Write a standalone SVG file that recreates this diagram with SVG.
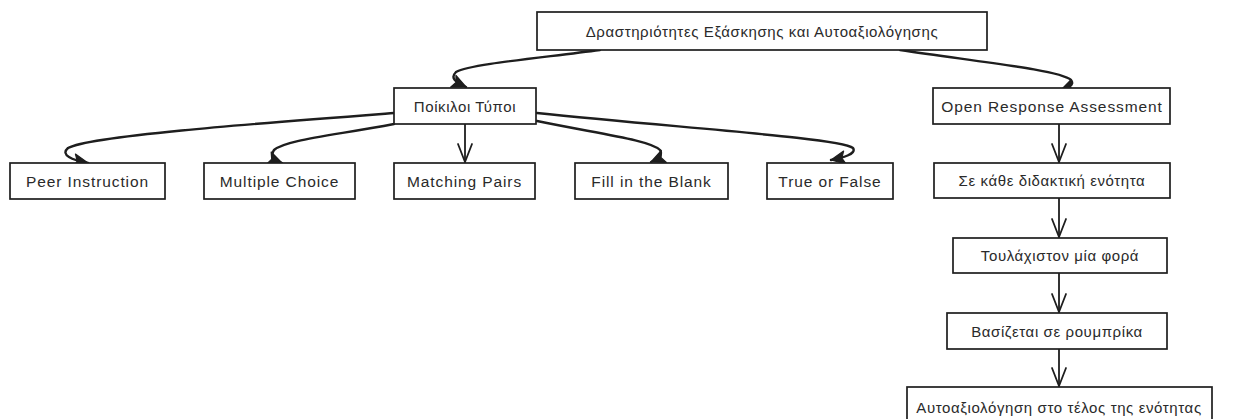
<svg xmlns="http://www.w3.org/2000/svg" width="1233" height="419" viewBox="0 0 1233 419">
<defs>
<style>
.box{fill:#ffffff;stroke:#1e1e1e;stroke-width:1.7}
.lbl{font-family:"Liberation Sans","Noto Sans",sans-serif;font-size:15px;fill:#2a2a2a;text-anchor:middle;dominant-baseline:central;letter-spacing:0.6px}
.lat{font-size:15.5px;letter-spacing:0.9px}
.edge{fill:none;stroke:#1e1e1e;stroke-width:1.8;stroke-linecap:round}
.curve{fill:none;stroke:#1e1e1e;stroke-width:2.4;stroke-linecap:round}
</style>
<marker id="vhead" viewBox="0 0 22 22" refX="20" refY="11" markerWidth="22" markerHeight="22" markerUnits="userSpaceOnUse" orient="auto">
<path d="M2,4 L20,11 L2,18" fill="none" stroke="#1e1e1e" stroke-width="1.8" stroke-linecap="round" stroke-linejoin="round"/>
</marker>
<marker id="chead" viewBox="0 0 18 18" refX="16" refY="9" markerWidth="18" markerHeight="18" markerUnits="userSpaceOnUse" orient="auto">
<path d="M2,2.5 L16,9 L2,15.5 L5,9 Z" fill="#1e1e1e" stroke="#1e1e1e" stroke-width="1.2" stroke-linejoin="round"/>
</marker>
</defs>
<rect width="1233" height="419" fill="#ffffff"/>

<g id="connectors">
<path class="curve" d="M600,50 C540,58 470,64 456,72 C450,78 455,82 466,87" marker-end="url(#chead)"/>
<path class="curve" d="M900,50 C980,62 1060,70 1071,80 C1075,85 1068,88 1060,91" marker-end="url(#chead)"/>
<path class="curve" d="M394,113 C250,124 90,136 68,148 C60,155 72,160 88,163" marker-end="url(#chead)"/>
<path class="curve" d="M394,124 C330,136 285,140 274,150 C270,156 274,160 282,163" marker-end="url(#chead)"/>
<path class="edge" d="M465,124 L465,162" marker-end="url(#vhead)"/>
<path class="curve" d="M537,121 C600,134 650,140 660,150 C663,155 658,159 651,162" marker-end="url(#chead)"/>
<path class="curve" d="M537,113 C680,128 840,138 853,148 C857,154 842,158 831,160" marker-end="url(#chead)"/>
<path class="edge" d="M1059,124 L1059,162" marker-end="url(#vhead)"/>
<path class="edge" d="M1059,198 L1059,237" marker-end="url(#vhead)"/>
<path class="edge" d="M1059,273 L1059,312" marker-end="url(#vhead)"/>
<path class="edge" d="M1059,349 L1059,386" marker-end="url(#vhead)"/>
</g>

<g id="root">
<rect class="box" x="537" y="12" width="450" height="38"/>
<text class="lbl" x="762" y="31">Δραστηριότητες Εξάσκησης και Αυτοαξιολόγησης</text>
</g>
<g id="poikiloi">
<rect class="box" x="394" y="88" width="142" height="36"/>
<text class="lbl" x="465" y="106">Ποίκιλοι Τύποι</text>
</g>
<g id="open">
<rect class="box" x="933" y="88" width="237" height="36"/>
<text class="lbl lat" x="1052" y="106">Open Response Assessment</text>
</g>
<g id="peer">
<rect class="box" x="10" y="163" width="155" height="36"/>
<text class="lbl lat" x="87.5" y="181">Peer Instruction</text>
</g>
<g id="multiple">
<rect class="box" x="204" y="163" width="151" height="36"/>
<text class="lbl lat" x="279.5" y="181">Multiple Choice</text>
</g>
<g id="matching">
<rect class="box" x="394" y="163" width="141" height="36"/>
<text class="lbl lat" x="464.5" y="181">Matching Pairs</text>
</g>
<g id="fill">
<rect class="box" x="575" y="163" width="153" height="36"/>
<text class="lbl lat" x="651.5" y="181">Fill in the Blank</text>
</g>
<g id="truefalse">
<rect class="box" x="767" y="163" width="126" height="36"/>
<text class="lbl lat" x="830" y="181">True or False</text>
</g>
<g id="sekathe">
<rect class="box" x="934" y="163" width="236" height="35"/>
<text class="lbl" x="1052" y="180.5">Σε κάθε διδακτική ενότητα</text>
</g>
<g id="toulaxiston">
<rect class="box" x="953" y="238" width="214" height="35"/>
<text class="lbl" x="1060" y="255.5">Τουλάχιστον μία φορά</text>
</g>
<g id="vasizetai">
<rect class="box" x="947" y="313" width="220" height="36"/>
<text class="lbl" x="1057" y="331">Βασίζεται σε ρουμπρίκα</text>
</g>
<g id="autoaxiologisi">
<rect class="box" x="907" y="387" width="305" height="50"/>
<text class="lbl" x="1059" y="407">Αυτοαξιολόγηση στο τέλος της ενότητας</text>
</g>
</svg>
